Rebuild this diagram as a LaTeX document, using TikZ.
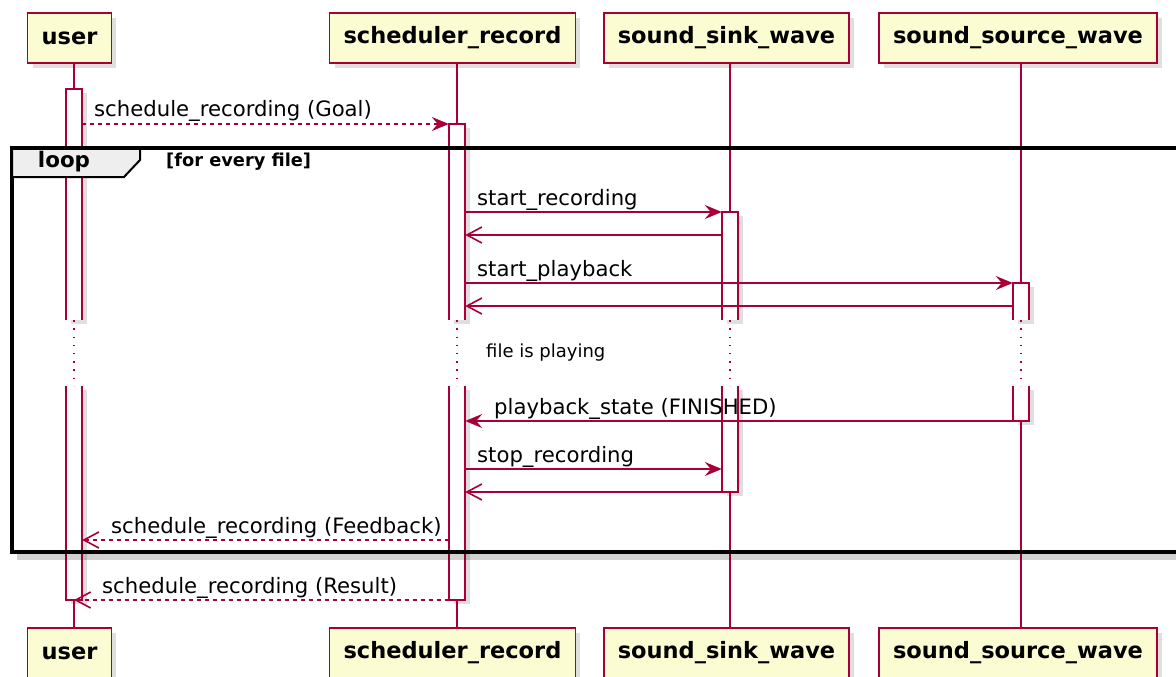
\documentclass[tikz,border=0pt]{standalone}
\usepackage{fontspec}
\setmainfont{DejaVu Sans}
\usetikzlibrary{arrows.meta,shadows}
\definecolor{umlred}{HTML}{A80036}
\definecolor{umlbox}{HTML}{FCFCD2}
\definecolor{umltab}{HTML}{EEEEEE}

\begin{document}
\begin{tikzpicture}[x=1pt,y=-1pt,
  part/.style={draw=umlred, line width=1.6pt, fill=umlbox, minimum height=50pt,
    inner xsep=14pt, font=\fontsize{22.5}{27}\selectfont\bfseries,
    drop shadow={shadow xshift=5pt, shadow yshift=-5pt, opacity=0.25}},
  actbar/.style={fill=white, minimum width=16pt, inner sep=0pt,
    drop shadow={shadow xshift=5pt, shadow yshift=-4pt, opacity=0.25}},
  life/.style={umlred, line width=1.4pt},
  gap/.style={umlred, line width=1.4pt, dash pattern=on 1.4pt off 6.8pt},
  msg/.style={umlred, line width=1.6pt, -{Stealth[length=17pt,width=14pt,inset=6pt]}},
  ret/.style={umlred, line width=1.6pt, -{Straight Barb[length=15pt,width=16pt]}},
  async/.style={dash pattern=on 4pt off 4pt},
  lbl/.style={inner sep=0pt, anchor=base west, font=\fontsize{21.2}{25}\selectfont},
  every node/.append style={text=black}]
\clip (0,0) rectangle (1176,677);
\useasboundingbox (0,0) rectangle (1176,677);

% participants, top and bottom
\node[part] (user-top) at (69.5,38) {user};
\node[part] (sched-top) at (452.5,38) {scheduler\_record};
\node[part] (sink-top) at (726.5,38) {sound\_sink\_wave};
\node[part] (src-top) at (1018,38) {sound\_source\_wave};
\node[part] (user-bot) at (69.5,653) {user};
\node[part] (sched-bot) at (452.5,653) {scheduler\_record};
\node[part] (sink-bot) at (726.5,653) {sound\_sink\_wave};
\node[part] (src-bot) at (1018,653) {sound\_source\_wave};

% activation bars, before and after the delay
\coordinate (user-x) at (74,0);
\coordinate (sched-x) at (457,0);
\coordinate (sink-x) at (730,0);
\coordinate (src-x) at (1021,0);
\node[actbar, minimum height=231pt] (user-a) at (74,204.5) {};
\node[actbar, minimum height=214pt] (user-b) at (74,493) {};
\node[actbar, minimum height=196pt] (sched-a) at (457,222) {};
\node[actbar, minimum height=214pt] (sched-b) at (457,493) {};
\node[actbar, minimum height=108pt] (sink-a) at (730,266) {};
\node[actbar, minimum height=106pt] (sink-b) at (730,439) {};
\node[actbar, minimum height=37pt] (src-a) at (1021,301.5) {};
\node[actbar, minimum height=35pt] (src-b) at (1021,403.5) {};

% lifelines and bar outlines
\foreach \p in {user,sched,sink,src}{
  \draw[life] (\p-x |- \p-top.south) -- (\p-a.north);
  \draw[gap] (\p-a.south) -- (\p-b.north);
  \draw[life] (\p-b.south) -- (\p-x |- \p-bot.north);
  \draw[umlred, line width=1.6pt] (\p-a.south west) |- (\p-a.north east) -- (\p-a.south east);
  \draw[umlred, line width=1.6pt] (\p-b.north west) |- (\p-b.south east) -- (\p-b.north east);
}

% loop frame
\fill[black, opacity=0.18] (17,554) rectangle (1190,560);
\draw[line width=3.2pt] (12,148) rectangle (1190,552);
\draw[line width=2pt, fill=umltab] (12,148) -- (140,148) -- (140,160) -- (124,177) -- (12,177) -- cycle;
\draw[line width=3.2pt] (12,148) -- (1190,148);
\node[font=\fontsize{21.4}{25}\selectfont\bfseries, inner sep=0pt] (loop) at (64,162) {loop};
\node[font=\fontsize{17.8}{21}\selectfont\bfseries, inner sep=0pt, anchor=west] (cond) at (166,162) {[for every file]};

% delay
\node[font=\fontsize{18}{22}\selectfont, inner sep=0pt, anchor=west] (delay) at (486,353) {file is playing};

% messages
\draw[msg, async] (user-a.east |- 0,124) -- (sched-a.west |- 0,124);
\node[lbl] (m1) at (94,117) {schedule\_recording (Goal)};
\draw[msg] (sched-a.east |- 0,212) -- (sink-a.west |- 0,212);
\node[lbl] (m2) at (477,205) {start\_recording};
\draw[ret] (sink-a.west |- 0,235) -- (sched-a.east |- 0,235);
\draw[msg] (sched-a.east |- 0,283) -- (src-a.west |- 0,283);
\node[lbl] (m3) at (477,276) {start\_playback};
\draw[ret] (src-a.west |- 0,306) -- (sched-a.east |- 0,306);
\draw[msg] (src-b.west |- 0,421) -- (sched-b.east |- 0,421);
\node[lbl] (m4) at (494,414) {playback\_state (FINISHED)};
\draw[msg] (sched-b.east |- 0,469) -- (sink-b.west |- 0,469);
\node[lbl] (m5) at (477,462) {stop\_recording};
\draw[ret] (sink-b.west |- 0,492) -- (sched-b.east |- 0,492);
\draw[ret, async] (sched-b.west |- 0,540) -- (user-b.east |- 0,540);
\node[lbl] (m6) at (111,533) {schedule\_recording (Feedback)};
\draw[ret, async] (sched-b.west |- 0,600) -- (user-x |- 0,600);
\node[lbl] (m7) at (102,593) {schedule\_recording (Result)};
\end{tikzpicture}
\end{document}
